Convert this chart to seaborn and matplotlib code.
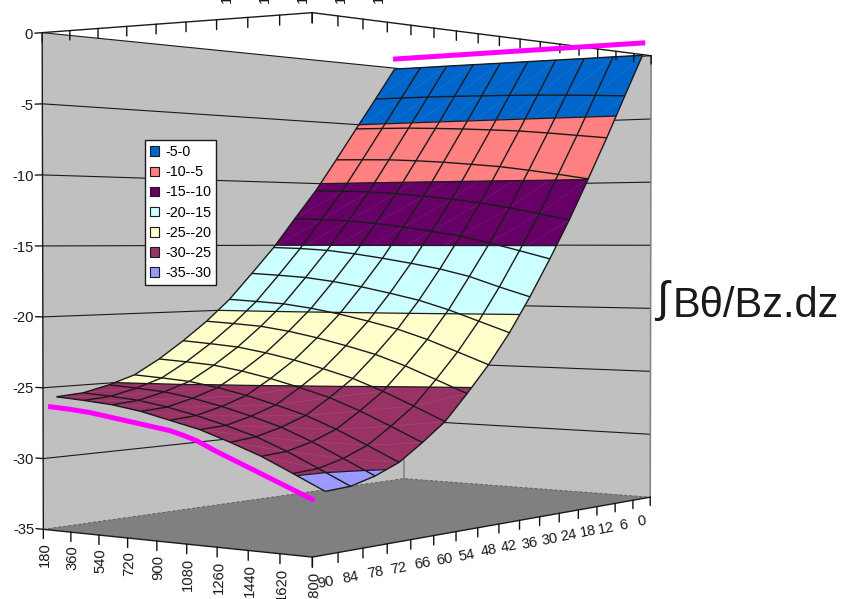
import numpy as np
import seaborn as sns
import matplotlib
matplotlib.use("Agg")
import matplotlib.pyplot as plt
from matplotlib.patches import Patch
from mpl_toolkits.mplot3d.art3d import Poly3DCollection, Line3DCollection

freq = [180, 360, 540, 720, 900, 1080, 1260, 1440, 1620, 1800]
angle = [0, 6, 12, 18, 24, 30, 36, 42, 48, 54, 60, 66, 72, 78, 84, 90]

# one row per angle, one column per freq
z_values = [
    [-0.08, -0.08, -0.07, -0.07, -0.07, -0.06, -0.06, -0.06, -0.05, -0.05],
    [-2.75, -2.76, -2.78, -2.82, -2.88, -2.94, -3.02, -3.12, -3.24, -3.37],
    [-5.36, -5.40, -5.45, -5.55, -5.67, -5.82, -5.98, -6.21, -6.47, -6.73],
    [-8.00, -8.05, -8.11, -8.24, -8.41, -8.63, -8.86, -9.19, -9.55, -9.94],
    [-10.58, -10.66, -10.74, -10.91, -11.15, -11.41, -11.72, -12.12, -12.59, -13.07],
    [-12.86, -12.96, -13.07, -13.29, -13.58, -13.91, -14.29, -14.80, -15.38, -15.98],
    [-15.18, -15.25, -15.39, -15.65, -15.98, -16.35, -16.76, -17.30, -18.05, -18.74],
    [-17.20, -17.32, -17.47, -17.75, -18.12, -18.57, -19.06, -19.72, -20.50, -21.28],
    [-19.18, -19.30, -19.44, -19.73, -20.12, -20.59, -21.12, -21.81, -22.64, -23.48],
    [-20.80, -20.92, -21.07, -21.38, -21.80, -22.31, -22.87, -23.62, -24.50, -25.40],
    [-22.20, -22.35, -22.53, -22.88, -23.33, -23.88, -24.48, -25.30, -26.23, -27.20],
    [-23.47, -23.60, -23.76, -24.10, -24.55, -25.10, -25.71, -26.53, -27.48, -28.47],
    [-24.53, -24.66, -24.82, -25.17, -25.62, -26.18, -26.80, -27.64, -28.61, -29.62],
    [-25.13, -25.27, -25.43, -25.78, -26.25, -26.81, -27.45, -28.31, -29.30, -30.32],
    [-25.57, -25.71, -25.89, -26.25, -26.72, -27.28, -27.92, -28.77, -29.76, -30.78],
    [-25.71, -25.86, -26.05, -26.39, -26.89, -27.39, -28.11, -28.90, -29.88, -30.88],
]

z_ticks = [0, -5, -10, -15, -20, -25, -30, -35]
band_labels = ["-5-0", "-10--5", "-15--10", "-20--15", "-25--20", "-30--25", "-35--30"]
band_colors = ["#0066CC", "#FF8080", "#660066", "#CCFFFF", "#FFFFCC", "#993366", "#9999FF"]
band_edges = [0, -5, -10, -15, -20, -25, -30, -35]

# the two pink marker lines sitting on the chart
marker_back_freq = [102, 1764]
marker_back_z = [0.9, 1.05]
marker_front_freq = [213, 350, 484, 735, 979, 1060, 1140, 1257, 1465, 1812]
marker_front_z = [-26.3, -26.4, -26.55, -27.0, -27.44, -27.7, -28.0, -28.63, -29.64, -31.34]

top_stub_labels = ["1080", "1260", "1440", "1620", "1800"]
top_stub_x = [227, 265, 303, 341, 379]

sns.set_theme(style="white", rc={"text.color": "black"})
plt.rcParams["font.family"] = ["Liberation Sans", "DejaVu Sans"]
palette = sns.color_palette(band_colors)
FS = 10.6

W, H = 844, 599
fig = plt.figure(figsize=(W / 100, H / 100), dpi=100)
# big square 3d axes, the view origin (0.5135 across) goes where the box centre falls
cx, cy = 364.6, 279.0
S = 1400
ax = fig.add_axes([(cx - 0.5135 * S) / W, (H - cy - 0.5135 * S) / H, S / W, S / H], projection="3d")
ax.computed_zorder = False
ax.set_axis_off()

a_lo, a_hi = -3, 93  # 16 slots, series sit in the slot centres
f_lo, f_hi = freq[0], freq[-1]
z_lo, z_hi = -35, 0


def clip_half(poly, level, keep_above):
    out = []
    for i in range(len(poly)):
        p, q = poly[i], poly[(i + 1) % len(poly)]
        p_in = p[2] >= level if keep_above else p[2] <= level
        q_in = q[2] >= level if keep_above else q[2] <= level
        if p_in:
            out.append(p)
        if p_in != q_in:
            t = (level - p[2]) / (q[2] - p[2])
            out.append(tuple(p[k] + t * (q[k] - p[k]) for k in range(3)))
    return out


def band_polys(lo, hi):
    polys = []
    for i in range(len(angle) - 1):
        for j in range(len(freq) - 1):
            quad = [(angle[i], freq[j], z_values[i][j]),
                    (angle[i + 1], freq[j], z_values[i + 1][j]),
                    (angle[i + 1], freq[j + 1], z_values[i + 1][j + 1]),
                    (angle[i], freq[j + 1], z_values[i][j + 1])]
            poly = clip_half(quad, lo, True)
            if poly:
                poly = clip_half(poly, hi, False)
            if len(poly) >= 3:
                polys.append(poly)
    return polys


# walls and floor
left_wall = [(a_hi, f_lo, z_hi), (a_lo, f_lo, z_hi), (a_lo, f_lo, z_lo), (a_hi, f_lo, z_lo)]
right_wall = [(a_lo, f_lo, z_hi), (a_lo, f_hi, z_hi), (a_lo, f_hi, z_lo), (a_lo, f_lo, z_lo)]
floor = [(a_hi, f_lo, z_lo), (a_lo, f_lo, z_lo), (a_lo, f_hi, z_lo), (a_hi, f_hi, z_lo)]
ax.add_collection3d(Poly3DCollection([left_wall, right_wall], facecolors="#C0C0C0",
                                     edgecolors="none", zorder=1))
ax.add_collection3d(Poly3DCollection([floor], facecolors="#808080", edgecolors="none", zorder=3))

# gridlines on the walls
for z in z_ticks[:-1]:
    ax.plot([a_hi, a_lo, a_lo], [f_lo, f_lo, f_hi], [z, z, z], color="k", lw=0.8, zorder=2)
ax.plot([a_lo, a_lo], [f_lo, f_lo], [z_lo, z_hi], color="#808080", lw=1.1, zorder=2)
ax.plot([a_lo, a_lo], [f_hi, f_hi], [z_lo, z_hi], color="#808080", lw=1.1, zorder=2)
ax.plot([a_hi, a_lo, a_lo], [f_lo, f_lo, f_hi], [z_lo] * 3, color="#555555", lw=0.6,
        ls=(0, (4, 2)), zorder=4)

# the surface, one flat colour per z band
X, Y = np.meshgrid(angle, freq, indexing="ij")
Z = np.array(z_values)
for k, color in enumerate(palette):
    surf = Poly3DCollection(band_polys(band_edges[k + 1], band_edges[k]), facecolors=color,
                            edgecolors=color, linewidths=0.3, zorder=5)
    ax.add_collection3d(surf)

# faint seam across every cell
seams = []
for i in range(len(angle) - 1):
    for j in range(len(freq) - 1):
        seams.append([(angle[i + 1], freq[j], z_values[i + 1][j]),
                      (angle[i], freq[j + 1], z_values[i][j + 1])])
ax.add_collection3d(Line3DCollection(seams, colors="white", linewidths=0.4, alpha=0.12, zorder=5.5))

ax.contour(X, Y, Z, levels=sorted(band_edges[1:-1]), colors="k", linewidths=0.9,
           linestyles="solid", zorder=6)
ax.plot_wireframe(X, Y, Z, color="k", linewidth=1.0, rcount=16, ccount=10, zorder=7)

# front frame at top and bottom, with ticks
tick_z = 0.65
for z in (z_hi, z_lo):
    ax.plot([a_hi, a_hi, a_lo], [f_lo, f_hi, f_hi], [z, z, z], color="k", lw=1.0, zorder=8)
    for f in freq:
        ax.plot([a_hi, a_hi], [f, f], [z, z - tick_z], color="#111111", lw=1.0, zorder=8)
    for a in range(a_lo, a_hi + 1, 6):
        ax.plot([a, a], [f_hi, f_hi], [z, z - tick_z], color="#111111", lw=1.0, zorder=8)
ax.plot([a_hi, a_hi], [f_lo, f_lo], [z_lo, z_hi], color="k", lw=1.0, zorder=8)
for z in z_ticks:
    ax.plot([a_hi, a_hi], [f_lo, f_lo - 48], [z, z], color="k", lw=1.0, zorder=8)
    ax.text(a_hi, f_lo - 60, z - 0.12, str(z), ha="right", va="center", fontsize=FS, color="k")

# zdir sets the text direction on a 3d axes: up for freq (leaning a hair so the
# angle stays under 90 and doesn't flip), along the floor edge for angle
for f in freq:
    ax.text(a_hi, f + 10, z_lo - 0.9, str(f), zdir=(-0.05, 0, 1), ha="center", va="top", fontsize=FS, color="k")
for a in angle:
    ax.text(a, f_hi, z_lo - 1.8, str(a), zdir=(-1, 0, 0), ha="center", va="center", fontsize=FS, color="k")

# pink marker lines
ax.plot([a_lo] * 2, marker_back_freq, marker_back_z, color="#FF00FF", lw=3.6,
        solid_capstyle="butt", zorder=9)
ax.plot([a_hi] * len(marker_front_freq), marker_front_freq, marker_front_z, color="#FF00FF", lw=3.6,
        solid_capstyle="butt", zorder=9)

ax.set_xlim(a_lo, a_hi)
ax.set_ylim(f_lo, f_hi)
ax.set_zlim(z_lo, z_hi)
ax.set_box_aspect((2.50, 1.382, 2.008), zoom=0.5637)
ax.set_proj_type("persp", focal_length=0.3078)
ax.view_init(elev=0.96, azim=36.7)

handles = [Patch(facecolor=c, edgecolor="k", linewidth=0.8, label=l)
           for c, l in zip(palette, band_labels)]
fig.legend(handles=handles, loc="upper left", bbox_to_anchor=(145 / W, 1 - 140 / H),
           fontsize=10.3, frameon=True, fancybox=False, framealpha=1, edgecolor="k",
           borderaxespad=0, borderpad=0.36, labelspacing=0.43, handlelength=0.65,
           handleheight=0.65, handletextpad=0.38)

fig.text(656 / W, 1 - 312 / H, "\u222b", fontsize=32, ha="left", va="baseline", color="k")
fig.text(673 / W, 1 - 317 / H, "B\u03b8/Bz.dz", fontsize=30, ha="left", va="baseline", color="k")

for x, lab in zip(top_stub_x, top_stub_labels):
    fig.text(x / W, 1 - 3 / H, lab, rotation=90, ha="center", va="bottom", fontsize=FS, color="k")

fig.savefig("out.png", dpi=100)
